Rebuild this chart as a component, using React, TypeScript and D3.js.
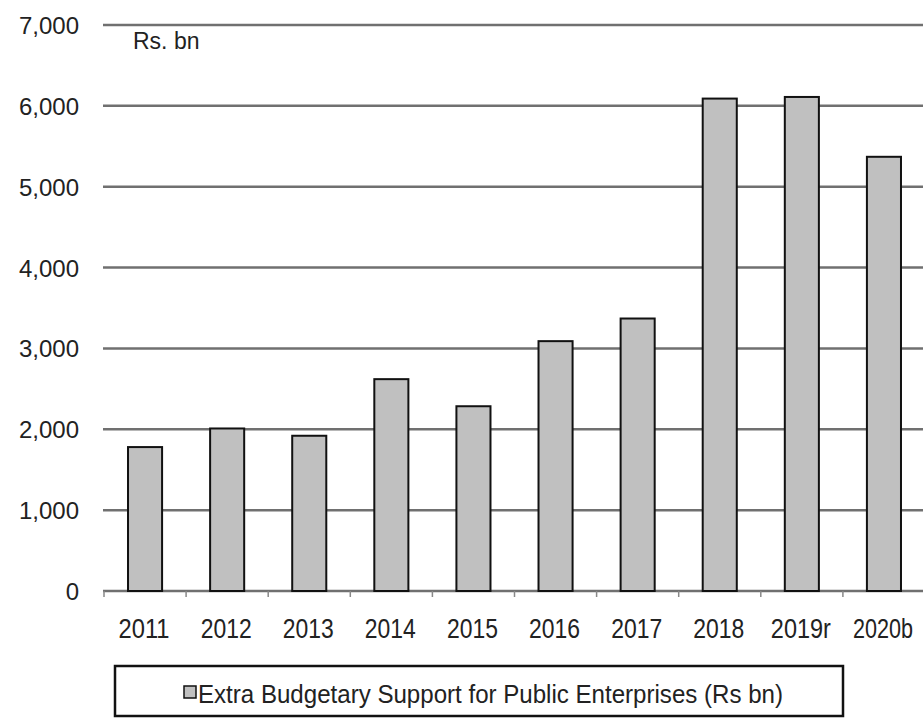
import React from "react";
import * as d3 from "d3";

const years = ["2011", "2012", "2013", "2014", "2015", "2016", "2017", "2018", "2019r", "2020b"];
const support = [1780, 2010, 1920, 2620, 2285, 3090, 3370, 6090, 6110, 5370];
const yTicks = [0, 1000, 2000, 3000, 4000, 5000, 6000, 7000];
const unitLabel = "Rs. bn";
const legendLabel = "Extra Budgetary Support for Public Enterprises (Rs bn)";

const W = 923;
const H = 718;
const FONT = "'Liberation Sans', Arial, Helvetica, sans-serif";

export default function App() {
  const x = d3.scaleBand<string>().domain(years).range([104, 925]).paddingInner(0.585).paddingOuter(0.2925);
  const y = d3.scaleLinear().domain([0, 7000]).range([591, 25]);
  const fmt = d3.format(",");
  const step = x.step();

  return (
    <svg width={W} height={H} style={{ position: "absolute", left: 0, top: 0, background: "#fff" }}>
      <rect x={0} y={0} width={W} height={H} fill="#fff" />
      {/* gridlines */}
      {yTicks.map((t) => (
        <line key={t} x1={103} x2={W} y1={y(t)} y2={y(t)} stroke="#707070" strokeWidth={2.5} />
      ))}
      {/* category ticks on the baseline */}
      {d3.range(years.length + 1).map((i) => {
        const xx = 104 + i * step;
        return <line key={i} x1={xx} x2={xx} y1={y(0)} y2={y(0) + 6} stroke="#888" strokeWidth={1.5} />;
      })}
      {/* y tick labels */}
      {yTicks.map((t) => (
        <text
          key={t}
          x={79}
          y={y(t) + 9}
          textAnchor="end"
          fontFamily={FONT}
          fontSize={24}
          fill="#222"
        >
          {fmt(t)}
        </text>
      ))}
      {/* unit label */}
      <rect x={128} y={30} width={76} height={22} fill="#fff" />
      <text x={133} y={49} fontFamily={FONT} fontSize={23} fill="#222">
        {unitLabel}
      </text>
      {/* bars */}
      {years.map((yr, i) => (
        <rect
          key={yr}
          x={x(yr)}
          y={y(support[i])}
          width={x.bandwidth()}
          height={y(0) - y(support[i])}
          fill="#c0c0c0"
          stroke="#111"
          strokeWidth={2}
        />
      ))}
      {/* x labels */}
      {years.map((yr) => {
        const cx = (x(yr) ?? 0) + x.bandwidth() / 2 - 1;
        const w = yr.length === 4 ? 51 : 60;
        return (
          <text
            key={yr}
            x={cx - w / 2}
            y={638}
            fontFamily={FONT}
            fontSize={28}
            fill="#222"
            textLength={w}
            lengthAdjust="spacingAndGlyphs"
          >
            {yr}
          </text>
        );
      })}
      {/* legend */}
      <rect x={115} y={666} width={728} height={50} fill="#fff" stroke="#111" strokeWidth={2.5} />
      <rect x={184} y={686} width={12} height={12} fill="#c0c0c0" stroke="#111" strokeWidth={1.5} />
      <text
        x={198}
        y={703}
        fontFamily={FONT}
        fontSize={26}
        fill="#222"
        textLength={585}
        lengthAdjust="spacingAndGlyphs"
      >
        {legendLabel}
      </text>
    </svg>
  );
}
